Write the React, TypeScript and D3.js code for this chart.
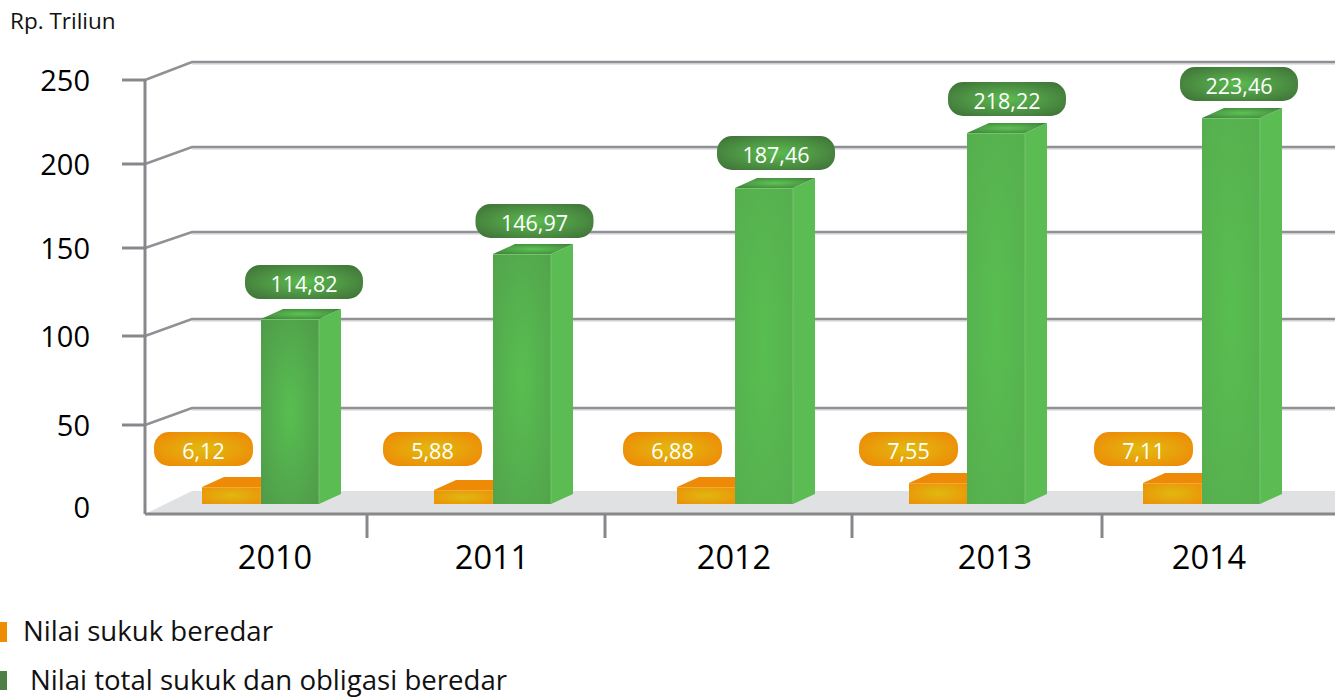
import React from "react";
import * as d3 from "d3";

const years = ["2010", "2011", "2012", "2013", "2014"];
const sukukValues = [6.12, 5.88, 6.88, 7.55, 7.11];
const totalValues = [114.82, 146.97, 187.46, 218.22, 223.46];
const axisTicks = [0, 50, 100, 150, 200, 250];
const legendLabels = ["Nilai sukuk beredar", "Nilai total sukuk dan obligasi beredar"];

const FONT = "'Open Sans', sans-serif";
const GRID = "#909194";
const AXIS = "#87888b";
const DEPTH_X = 22;
const DEPTH_Y = 10;
const BAR_W = 58;
const BAR_BASE = 504;

// the drawing is a hand-placed 3D picture, so the scales are calibrated per knot
const yFront = d3.scaleLinear().domain(axisTicks).range([514, 425, 336, 248, 164, 80]);
const yBack = d3.scaleLinear().domain(axisTicks).range([491, 408, 319, 232, 147, 62]);
const yTotal = d3.scaleLinear().domain([0, ...totalValues]).range([BAR_BASE, 319, 254, 188, 133, 118]);
const ySukuk = d3
   .scaleLinear()
   .domain([0, 5.88, 6.12, 6.88, 7.11, 7.55])
   .range([BAR_BASE, 490, 487, 487, 483, 483]);

const xTotal = d3.scaleOrdinal<string, number>().domain(years).range([261, 493, 735, 967, 1202]);
const xSukuk = d3.scaleOrdinal<string, number>().domain(years).range([202, 434, 677, 909, 1143]);
const xLabel = d3.scaleOrdinal<string, number>().domain(years).range([275, 492, 734, 995, 1209]);
const xTotalPill = d3.scaleOrdinal<string, number>().domain(years).range([304, 534.5, 776, 1007, 1239]);
const yTotalPill = d3.scaleOrdinal<string, number>().domain(years).range([282, 221, 153, 99, 84]);
const xSukukPill = d3.scaleOrdinal<string, number>().domain(years).range([203.5, 432.5, 672.5, 908.5, 1143.5]);
const xTicks = [367, 605, 852, 1102];

// shorter bars show a darker rim than the tall ones
const rimColor = d3.scaleLinear<string>().domain([114.82, 187.46]).range(["#4f9a49", "#56ae4e"]).clamp(true);

const comma = (v: number) => v.toFixed(2).replace(".", ",");

function Radial({ id, inner, outer, r = "70%" }: { id: string; inner: string; outer: string; r?: string }) {
   return (
      <radialGradient id={id} cx="50%" cy="50%" r={r}>
         <stop offset="0%" stopColor={inner} />
         <stop offset="100%" stopColor={outer} />
      </radialGradient>
   );
}

function Box({ x, top, w, fillFront, fillSide, fillTop, edge }: any) {
   const path = d3.path();
   path.moveTo(x, top);
   path.lineTo(x + DEPTH_X, top - DEPTH_Y);
   path.lineTo(x + w + DEPTH_X, top - DEPTH_Y);
   path.lineTo(x + w, top);
   path.closePath();
   const side = d3.path();
   side.moveTo(x + w, top);
   side.lineTo(x + w + DEPTH_X, top - DEPTH_Y);
   side.lineTo(x + w + DEPTH_X, BAR_BASE - DEPTH_Y);
   side.lineTo(x + w, BAR_BASE);
   side.closePath();
   return (
      <g>
         <path d={side.toString()} fill={fillSide} />
         <path d={path.toString()} fill={fillTop} />
         <rect x={x} y={top} width={w} height={BAR_BASE - top} fill={fillFront} />
         <line x1={x} x2={x + w} y1={top + 0.5} y2={top + 0.5} stroke={edge} strokeWidth={1} />
         <line x1={x + w} x2={x + w} y1={top} y2={BAR_BASE} stroke={edge} strokeWidth={1} />
      </g>
   );
}

function Pill({ cx, cy, w, fill, text }: any) {
   return (
      <g>
         <rect x={cx - w / 2} y={cy - 17} width={w} height={34} rx={15} fill={fill} />
         <text x={cx} y={cy + 9.5} textAnchor="middle" fontSize={21.5} fill="#fff" fontFamily={FONT}>
            {text}
         </text>
      </g>
   );
}

export default function App() {
   const floor = d3.line()([
      [145, yFront(0)],
      [192, yBack(0)],
      [1335, yBack(0)],
      [1335, yFront(0)],
   ]) as string;

   return (
      <svg width={1341} height={699} style={{ position: "absolute", left: 0, top: 0, background: "#fff" }}>
         <defs>
            {totalValues.map((v, i) => (
               <Radial key={i} id={`greenFront${i}`} inner="#58be51" outer={rimColor(v)} />
            ))}
            <Radial id="greenTop" inner="#5cc353" outer="#3f7d3a" />
            <Radial id="greenPill" inner="#5cbb50" outer="#3e6d37" />
            <Radial id="orangeFront" inner="#e0b810" outer="#ef8705" r="85%" />
            <Radial id="orangePill" inner="#e2bb10" outer="#ef8405" />
         </defs>

         <path d={floor} fill="#e0e1e3" />

         {axisTicks.slice(1).map((t) => (
            <g key={t} fill="none">
               <line x1={192} x2={1335} y1={yBack(t) + 2} y2={yBack(t) + 2} stroke="#dcdde0" strokeWidth={1.5} />
               <path
                  stroke={GRID}
                  strokeWidth={2.5}
                  d={
                     d3.line()([
                        [145, yFront(t)],
                        [192, yBack(t)],
                        [1335, yBack(t)],
                     ]) as string
                  }
               />
            </g>
         ))}

         <g stroke={AXIS} strokeWidth={3} fill="none">
            <line x1={145} x2={145} y1={yFront(250)} y2={yFront(0)} />
            <line x1={145} x2={1335} y1={yFront(0)} y2={yFront(0)} />
            {axisTicks.slice(1).map((t) => (
               <line key={t} x1={122} x2={145} y1={yFront(t)} y2={yFront(t)} />
            ))}
            {xTicks.map((x) => (
               <line key={x} x1={x} x2={x} y1={yFront(0)} y2={538} />
            ))}
         </g>

         {axisTicks.map((t) => (
            <text key={t} x={90} y={t === 0 ? 518 : yFront(t) + 11} textAnchor="end" fontSize={29} fill="#000" fontFamily={FONT}>
               {t}
            </text>
         ))}

         {years.map((year, i) => (
            <g key={year}>
               <Box
                  x={xSukuk(year)}
                  top={ySukuk(sukukValues[i])}
                  w={BAR_W + 1}
                  fillFront="url(#orangeFront)"
                  fillSide="#ef8a05"
                  fillTop="#ee8a06"
                  edge="#f1a93a"
               />
               <Box
                  x={xTotal(year)}
                  top={yTotal(totalValues[i])}
                  w={BAR_W}
                  fillFront={`url(#greenFront${i})`}
                  fillSide="#5abc52"
                  fillTop="url(#greenTop)"
                  edge="#72c56b"
               />
               <Pill cx={xTotalPill(year)} cy={yTotalPill(year)} w={118} fill="url(#greenPill)" text={comma(totalValues[i])} />
               <Pill cx={xSukukPill(year)} cy={449} w={99} fill="url(#orangePill)" text={comma(sukukValues[i])} />
               <text x={xLabel(year)} y={569} textAnchor="middle" fontSize={32.5} fill="#000" fontFamily={FONT}>
                  {year}
               </text>
            </g>
         ))}

         <text x={10} y={29} fontSize={22.5} fill="#111" fontFamily={FONT}>
            Rp. Triliun
         </text>

         <rect x={0} y={622} width={7} height={20} fill="#ef8c05" />
         <text x={23} y={641} fontSize={27.6} fill="#111" fontFamily={FONT}>
            {legendLabels[0]}
         </text>
         <rect x={0} y={671} width={7} height={19} fill="#4d7f46" />
         <text x={30} y={690} fontSize={27.6} fill="#111" fontFamily={FONT}>
            {legendLabels[1]}
         </text>
      </svg>
   );
}
